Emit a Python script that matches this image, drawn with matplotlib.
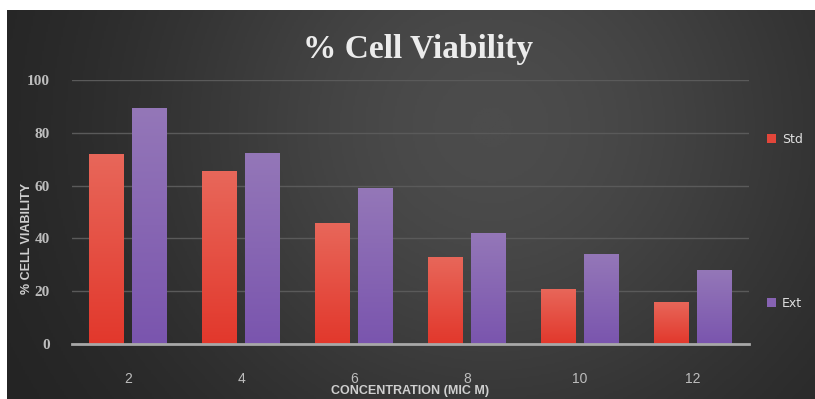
import numpy as np
import matplotlib.pyplot as plt
from matplotlib.colors import LinearSegmentedColormap

concentration = ["2", "4", "6", "8", "10", "12"]
std_viability = [72, 65.5, 46, 33, 21, 16]
ext_viability = [89.5, 72.5, 59, 42, 34, 28]

fig = plt.figure(figsize=(8.15, 3.99), dpi=100, facecolor="white")

# dark panel with a soft light spot behind the plot
bg = fig.add_axes([7 / 815, 0, 1 - 7 / 815, 389 / 399])
gx, gy = np.meshgrid(np.linspace(0, 1, 400), np.linspace(0, 1, 200))
glow = np.exp(-(((gx - 0.6) / 0.45) ** 2 + ((gy - 0.3) / 0.9) ** 2))
bg_cmap = LinearSegmentedColormap.from_list("bg", ["#242424", "#4c4c4c"])
bg.imshow(glow, cmap=bg_cmap, aspect="auto", extent=[0, 1, 0, 1], origin="upper")
bg.set_axis_off()

ax = fig.add_axes([72 / 815, 55 / 399, 677 / 815, 264 / 399])
ax.set_facecolor("none")

x = np.arange(len(concentration))
w = 0.31
off = 0.19
std_bars = ax.bar(x - off, std_viability, w, color="#e2463a", label="Std", zorder=2)
ext_bars = ax.bar(x + off, ext_viability, w, color="#8763b3", label="Ext", zorder=2)

# vertical shading inside each bar
shade = np.linspace(0, 1, 100).reshape(-1, 1)
red_cmap = LinearSegmentedColormap.from_list("r", ["#e8675a", "#e2382c"])
pur_cmap = LinearSegmentedColormap.from_list("p", ["#9477b8", "#7a55ae"])
for bars, cm in [(std_bars, red_cmap), (ext_bars, pur_cmap)]:
    for b in bars:
        x0, h = b.get_x(), b.get_height()
        im = ax.imshow(shade, cmap=cm, aspect="auto", origin="upper",
                       extent=[x0, x0 + b.get_width(), 0, h], zorder=3)
        im.set_clip_path(b)

ax.set_xlim(-0.5, len(concentration) - 0.5)
ax.set_ylim(0, 100)
ax.set_yticks(range(0, 101, 20))
ax.set_xticks(x)
ax.set_xticklabels(concentration)
ax.grid(axis="y", color="#5a5a5a", linewidth=1, zorder=0)
for s in ["top", "right", "left"]:
    ax.spines[s].set_visible(False)
ax.spines["bottom"].set_color("#a8a8a8")
ax.spines["bottom"].set_linewidth(2)
ax.spines["bottom"].set_zorder(4)
ax.tick_params(length=0, colors="#bdbdbd")
for t in ax.get_yticklabels():
    t.set_fontfamily("Liberation Serif")
    t.set_fontweight("bold")
    t.set_fontsize(11)
for t in ax.get_xticklabels():
    t.set_fontfamily("Liberation Sans")
    t.set_fontsize(10)
ax.tick_params(axis="x", pad=20)
ax.tick_params(axis="y", pad=16)

ax.set_xlabel("CONCENTRATION (MIC M)", color="#cfcfcf", fontsize=9,
              fontweight="bold", family="Liberation Sans", va="center")
ax.xaxis.set_label_coords(0.5, -0.178)
ax.set_ylabel("% CELL VIABILITY", color="#cfcfcf", fontsize=9,
              fontweight="bold", family="Liberation Sans", va="center")
ax.yaxis.set_label_coords(-0.067, 0.4)

fig.text(0.513, 0.875, "% Cell Viability", ha="center", va="center",
         color="#ececec", fontsize=24, fontweight="bold", family="Liberation Serif")

leg = ax.legend(loc="upper left", bbox_to_anchor=(1.01, 0.843), frameon=False,
                handlelength=0.7, handleheight=0.7, handletextpad=0.5,
                labelspacing=12.1, fontsize=9)
for t in leg.get_texts():
    t.set_color("#e0e0e0")

fig.savefig("out.png", dpi=100)
